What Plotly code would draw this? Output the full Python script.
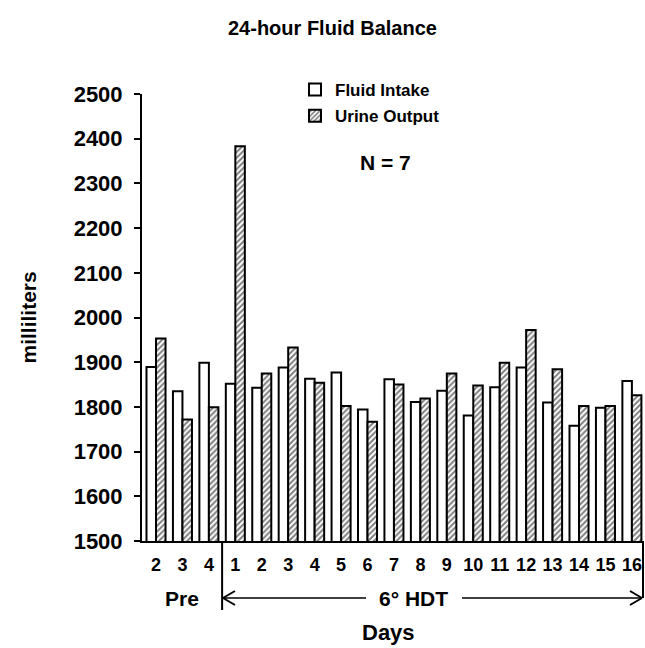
import plotly.graph_objects as go

day_labels = ["2", "3", "4", "1", "2", "3", "4", "5", "6", "7", "8", "9",
              "10", "11", "12", "13", "14", "15", "16"]
fluid_intake = [1889, 1835, 1899, 1852, 1843, 1888, 1863, 1877, 1794, 1862,
                1811, 1836, 1781, 1844, 1888, 1810, 1758, 1798, 1858]
urine_output = [1953, 1772, 1799, 2383, 1875, 1933, 1854, 1802, 1767, 1850,
                1819, 1875, 1848, 1899, 1972, 1884, 1802, 1802, 1826]
y_ticks = [1500, 1600, 1700, 1800, 1900, 2000, 2100, 2200, 2300, 2400, 2500]

x_pos = list(range(len(day_labels)))
FONT = "Liberation Sans, Arial, sans-serif"

fig = go.Figure()
fig.add_trace(go.Bar(
    x=x_pos, y=fluid_intake, name="Fluid Intake", legendgroup="a",
    marker=dict(color="white", line=dict(color="black", width=2)),
))
fig.add_trace(go.Bar(
    x=x_pos, y=urine_output, name="Urine Output", legendgroup="b",
    marker=dict(color="white", line=dict(color="black", width=2),
                pattern=dict(shape="/", fgcolor="black", bgcolor="white",
                             size=4, solidity=0.5)),
))

# plot area: x 142..643 px, y 94..541 px
L, R, T, B = 142, 2, 94, 107
W, H = 645, 648
pw, ph = W - L - R, H - T - B

def py(ypx):
    return (H - B - ypx) / ph

def pxp(xpx):
    return (xpx - L) / pw

fig.update_layout(
    width=W, height=H,
    margin=dict(l=L, r=R, t=T, b=B),
    paper_bgcolor="white", plot_bgcolor="white",
    barmode="group", bargap=0.28, bargroupgap=0.0,
    font=dict(family=FONT, color="black"),
    showlegend=True,
    legend=dict(x=pxp(295), y=py(72), xanchor="left", yanchor="top",
                font=dict(size=17, family=FONT, color="black", weight="bold"),
                bgcolor="rgba(0,0,0,0)", tracegroupgap=1, itemwidth=30),
    xaxis=dict(range=[-0.53, 18.42], tickmode="array", tickvals=x_pos,
               ticktext=[f"<b>{d}</b>" for d in day_labels],
               tickfont=dict(size=18, family=FONT, color="black"),
               showline=True, linecolor="black", linewidth=2,
               ticks="", showgrid=False, zeroline=False, ticklabelstandoff=6),
    yaxis=dict(range=[1500, 2500], tickmode="array", tickvals=y_ticks,
               ticktext=[f"<b>{v}</b>" for v in y_ticks],
               tickfont=dict(size=22, family=FONT, color="black"),
               showline=True, linecolor="black", linewidth=2,
               ticks="outside", ticklen=6, tickwidth=1.5, tickcolor="black",
               showgrid=False, zeroline=False, ticklabelstandoff=7),
)

ann = []
ann.append(dict(text="<b>24-hour Fluid Balance</b>", x=pxp(332), y=py(28),
                xref="paper", yref="paper", showarrow=False,
                font=dict(size=20), xanchor="center", yanchor="middle"))
ann.append(dict(text="<b>N = 7</b>", x=pxp(385), y=py(162),
                xref="paper", yref="paper", showarrow=False,
                font=dict(size=21), xanchor="center", yanchor="middle"))
ann.append(dict(text="<b>milliliters</b>", x=pxp(28), y=0.5, textangle=-90,
                xref="paper", yref="paper", showarrow=False,
                font=dict(size=21), xanchor="center", yanchor="middle"))
ann.append(dict(text="<b>Days</b>", x=pxp(388), y=py(632),
                xref="paper", yref="paper", showarrow=False,
                font=dict(size=22), xanchor="center", yanchor="middle"))
ann.append(dict(text="<b>Pre</b>", x=1.0, y=py(598),
                xref="x", yref="paper", showarrow=False,
                font=dict(size=21), xanchor="center", yanchor="middle"))
ann.append(dict(text="<b>6° HDT</b>", x=pxp(413), y=py(598),
                xref="paper", yref="paper", showarrow=False,
                font=dict(size=21), xanchor="center", yanchor="middle"))
fig.update_layout(annotations=ann)

shapes = []
line = dict(color="black", width=2)
# divider between Pre and HDT
shapes.append(dict(type="line", xref="x", yref="paper", x0=2.5, x1=2.5,
                   y0=py(541), y1=py(610), line=line))
# right end line
shapes.append(dict(type="line", xref="paper", yref="paper", x0=1, x1=1,
                   y0=py(541), y1=py(598), line=line))
# arrow lines
ay = py(598)
shapes.append(dict(type="line", xref="paper", yref="paper", x0=pxp(223),
                   x1=pxp(366), y0=ay, y1=ay, line=dict(color="black", width=1.5)))
shapes.append(dict(type="line", xref="paper", yref="paper", x0=pxp(462),
                   x1=pxp(642), y0=ay, y1=ay, line=dict(color="black", width=1.5)))
# arrow heads (open chevrons)
for tip, d in ((pxp(223), 1), (pxp(642), -1)):
    dx = d * 12 / pw
    dy = 7 / ph
    shapes.append(dict(type="line", xref="paper", yref="paper", x0=tip, y0=ay,
                       x1=tip + dx, y1=ay + dy, line=dict(color="black", width=2)))
    shapes.append(dict(type="line", xref="paper", yref="paper", x0=tip, y0=ay,
                       x1=tip + dx, y1=ay - dy, line=dict(color="black", width=2)))
fig.update_layout(shapes=shapes)

fig.write_html("out.html", config={"displayModeBar": False},
               post_script="document.body.style.margin='0';document.body.style.overflow='hidden';")
